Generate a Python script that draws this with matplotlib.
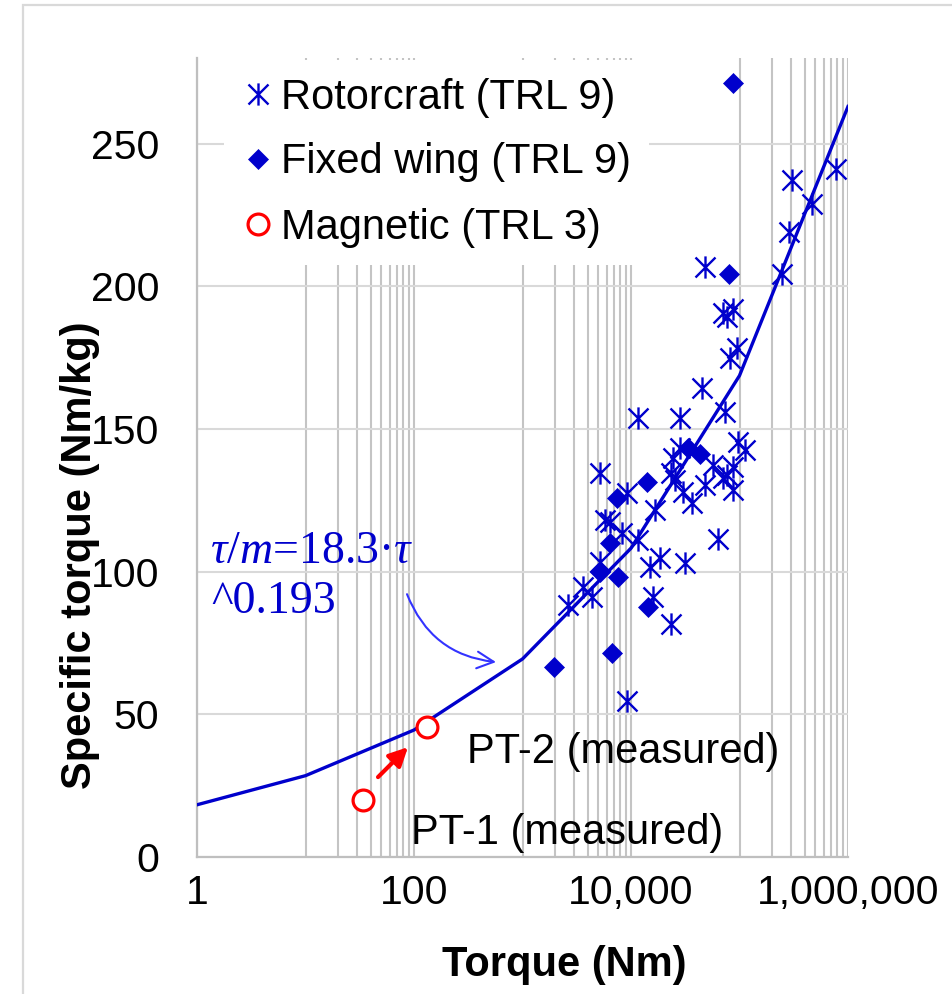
import matplotlib
matplotlib.use("Agg")
import matplotlib.pyplot as plt
from matplotlib.path import Path
from matplotlib.patches import Rectangle
from matplotlib.ticker import FixedLocator, FuncFormatter

plt.rcParams['font.family'] = ['Liberation Sans', 'DejaVu Sans']
plt.rcParams['mathtext.fontset'] = 'custom'
plt.rcParams['mathtext.rm'] = 'Liberation Serif'
plt.rcParams['mathtext.it'] = 'Liberation Serif:italic'

# ---- data ----
rotor_torque = [2626, 3612, 4375, 5176, 5180, 5754, 6397, 8257, 9185, 11600,
                16640, 14970, 18500, 15950, 23370, 9190, 11610, 28300, 23400, 24380,
                25450, 30150, 36480, 31450, 48100, 57000, 76700, 87100, 87100, 70500,
                63400, 73500, 96900, 112400, 45100, 81700, 94800, 70500, 87100, 76700,
                48100, 246500, 285900, 304800, 466000, 774000, 28300]
rotor_spec = [88.2, 94.5, 91.0, 103.3, 134.4, 118.0, 117.3, 113.4, 127.4, 111.0,
              121.5, 101.5, 104.7, 91.0, 81.6, 54.6, 154.0, 153.7, 134.6, 139.7,
              132.0, 127.8, 123.9, 102.9, 130.2, 137.2, 133.7, 136.5, 128.5, 132.7,
              111.3, 155.8, 145.3, 142.5, 164.5, 174.7, 178.5, 190.8, 192.2, 189.4,
              206.9, 204.4, 219.1, 237.3, 228.9, 241.2, 143.5]

fixed_torque = [1950, 6680, 14350, 5180, 7590, 6400, 7430, 14030, 33500, 43250, 80000, 87100]
fixed_spec = [66.5, 71.4, 87.5, 99.8, 98.0, 109.9, 125.7, 131.3, 143.2, 141.4, 204.4, 271.3]

magnetic_torque = [34, 132]
magnetic_spec = [20.0, 45.5]

fit_torque = [1, 10, 100, 1e3, 1e4, 1e5, 1e6]
fit_spec = [18.3, 28.5, 44.5, 69.4, 108.2, 168.7, 263.0]

y_ticks = [0, 50, 100, 150, 200, 250]
x_labelled = [1, 100, 10000, 1000000]

BLUE = '#0000CC'

# asterisk like Excel: vertical bar + X
star = Path([(0, -1), (0, 1), (-0.9, -0.9), (0.9, 0.9), (-0.9, 0.9), (0.9, -0.9)],
            [Path.MOVETO, Path.LINETO, Path.MOVETO, Path.LINETO, Path.MOVETO, Path.LINETO])

fig = plt.figure(figsize=(9.52, 9.94), dpi=100)
ax = fig.add_axes([197/952, 1-857/994, (848-197)/952, (857-58)/994])

# light page border
fig.patches.append(Rectangle((23/952, -0.1), 1.2, 1.1 - 5/994, transform=fig.transFigure,
                             fill=False, edgecolor='#d9d9d9', lw=1.6, zorder=0))

ax.plot(fit_torque, fit_spec, color=BLUE, lw=2.4, zorder=3)
ax.plot(rotor_torque, rotor_spec, ls='none', marker=star, ms=16, mew=1.7,
        mec=BLUE, mfc='none', zorder=4, label='Rotorcraft (TRL 9)')
ax.plot(fixed_torque, fixed_spec, ls='none', marker='D', ms=10.5, mew=0.5,
        color=BLUE, zorder=5, label='Fixed wing (TRL 9)')
ax.plot(magnetic_torque, magnetic_spec, ls='none', marker='o', ms=15, mew=2.3,
        mec='#FF0000', mfc='white', zorder=6, label='Magnetic (TRL 3)')

ax.set_xscale('log')
ax.set_xlim(1, 1e6)
ax.set_ylim(0, 280)

# gridlines: every decade major, minor 2..9 only in odd decades
ax.xaxis.set_major_locator(FixedLocator([10.0**k for k in range(7)]))
ax.xaxis.set_minor_locator(FixedLocator([n*10.0**k for k in (1, 3, 5) for n in range(2, 10)]))
ax.xaxis.set_major_formatter(FuncFormatter(lambda v, p: f"{v:,.0f}" if round(v) in x_labelled else ""))
ax.xaxis.set_minor_formatter(FuncFormatter(lambda v, p: ""))
ax.set_yticks(y_ticks)

ax.grid(True, which='major', axis='y', color='#d9d9d9', lw=1.5)
ax.grid(True, which='major', axis='x', color='#c4c4c4', lw=1.5)
ax.grid(True, which='minor', axis='x', color='#c4c4c4', lw=1.5)
for t in ax.xaxis.get_major_ticks():
    if round(t.get_loc()) in x_labelled:
        t.gridline.set_color('#a0a0a0')
        t.gridline.set_linewidth(1.8)
ax.set_axisbelow(True)

ax.tick_params(axis='both', which='both', length=0, labelsize=29.5)
ax.tick_params(axis='x', pad=12)
ax.tick_params(axis='y', pad=27)
for s in ('top', 'right'):
    ax.spines[s].set_visible(False)
for s in ('left', 'bottom'):
    ax.spines[s].set_color('#bfbfbf')
    ax.spines[s].set_linewidth(1.6)

leg = ax.legend(loc='upper left', bbox_to_anchor=(224/952, 1-60/994), bbox_transform=fig.transFigure,
                fontsize=30, frameon=True, framealpha=1, edgecolor='none', fancybox=False,
                borderaxespad=0, borderpad=0.42, labelspacing=0.6, handlelength=0.8,
                handletextpad=0.15)

# annotations
ax.annotate('', xy=(88, 38.5), xytext=(46.6, 28.0),
            arrowprops=dict(arrowstyle='-|>', color='#FF0000', lw=3, mutation_scale=28,
                            shrinkA=0, shrinkB=0))
ax.text(308, 36.8, 'PT-2 (measured)', fontsize=30, va='center', ha='left')
ax.text(93.8, 8.4, 'PT-1 (measured)', fontsize=30, va='center', ha='left')

ax.text(1.32, 106.8, r'$\tau/m$=18.3·$\tau$', fontsize=33, color=BLUE, va='center',
        ha='left', family='Liberation Serif')
ax.text(1.35, 89.3, '^0.193', fontsize=33, color=BLUE, va='center', ha='left',
        family='Liberation Serif')
ax.annotate('', xy=(570, 68.3), xytext=(86.2, 92.1),
            arrowprops=dict(arrowstyle='->', color='#3333FF', lw=1.5, mutation_scale=30,
                            connectionstyle='arc3,rad=0.3', shrinkA=0, shrinkB=0))

fig.text(80/952, 1-555/994, 'Specific torque (Nm/kg)', rotation=90, fontsize=30,
         fontweight='bold', ha='center', va='center')
fig.text(564/952, 1-965/994, 'Torque (Nm)', fontsize=30, fontweight='bold',
         ha='center', va='center')

fig.savefig('out.png', dpi=100)
